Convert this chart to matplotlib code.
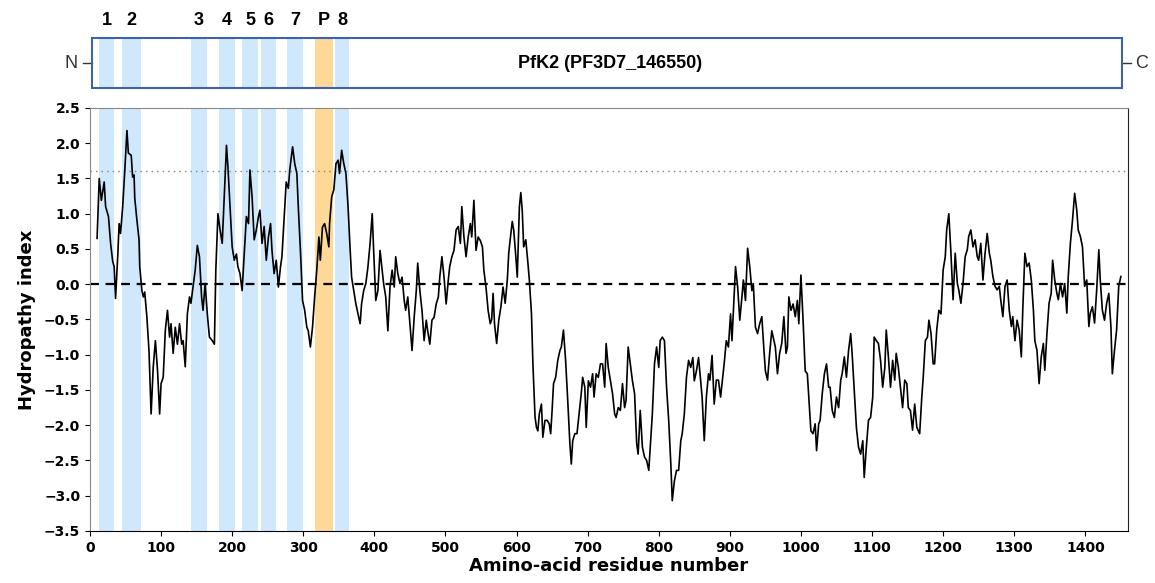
import matplotlib
matplotlib.use("Agg")
import matplotlib.pyplot as plt
from matplotlib.patches import Rectangle

# hydropathy profile
residue = [10, 13, 16, 20, 22, 26, 29, 32, 34, 36, 39, 41, 43, 46, 49, 52, 54, 58, 60, 62, 63, 66, 69, 70,
           73, 75, 77, 80, 83, 86, 89, 92, 95, 98, 100, 103, 106, 109, 112, 114, 117, 120, 123, 126, 129,
           131, 134, 137, 140, 142, 145, 148, 151, 154, 157, 159, 162, 165, 168, 172, 175, 177, 180, 183,
           186, 189, 192, 194, 197, 200, 203, 206, 208, 211, 214, 217, 220, 223, 225, 228, 231, 234, 237,
           239, 242, 245, 248, 251, 254, 256, 259, 262, 265, 268, 270, 273, 276, 279, 281, 285, 288, 291,
           293, 296, 299, 302, 305, 307, 310, 313, 316, 319, 322, 324, 327, 330, 333, 336, 337, 340, 343,
           346, 349, 351, 354, 357, 360, 363, 366, 368, 371, 374, 377, 380, 382, 385, 388, 391, 394, 397,
           399, 402, 405, 408, 411, 413, 416, 419, 422, 425, 428, 430, 433, 436, 439, 442, 444, 447, 450,
           453, 456, 459, 461, 464, 467, 470, 473, 475, 478, 481, 484, 487, 490, 492, 495, 498, 501, 504,
           506, 509, 512, 515, 518, 521, 523, 526, 529, 532, 535, 537, 540, 543, 546, 549, 552, 554, 557,
           560, 563, 565, 567, 569, 572, 575, 578, 581, 584, 587, 589, 591, 594, 596, 599, 601, 604, 606,
           608, 610, 613, 616, 618, 621, 623, 626, 628, 630, 632, 635, 637, 640, 643, 646, 648, 650, 652,
           655, 658, 661, 663, 666, 669, 672, 675, 677, 679, 682, 685, 688, 691, 693, 696, 698, 701, 704,
           707, 709, 712, 715, 718, 721, 724, 726, 729, 732, 735, 738, 740, 743, 746, 749, 752, 754, 757,
           760, 763, 766, 769, 771, 774, 777, 780, 783, 786, 788, 791, 794, 797, 800, 802, 805, 808, 811,
           814, 817, 819, 822, 825, 828, 831, 833, 836, 839, 842, 845, 848, 850, 853, 856, 859, 861, 864,
           867, 870, 872, 875, 878, 881, 884, 887, 889, 892, 895, 898, 901, 903, 906, 908, 911, 914, 917,
           919, 922, 925, 928, 931, 933, 936, 939, 942, 945, 948, 950, 953, 956, 959, 962, 964, 967, 970,
           973, 976, 979, 981, 983, 986, 989, 992, 995, 997, 1000, 1003, 1006, 1009, 1011, 1014, 1017,
           1020, 1022, 1025, 1027, 1030, 1033, 1036, 1039, 1041, 1044, 1047, 1050, 1053, 1056, 1058, 1061,
           1064, 1067, 1070, 1072, 1075, 1078, 1081, 1084, 1087, 1089, 1092, 1095, 1098, 1101, 1103, 1106,
           1109, 1112, 1115, 1118, 1120, 1123, 1126, 1129, 1132, 1134, 1137, 1140, 1143, 1146, 1149, 1151,
           1154, 1157, 1160, 1163, 1167, 1170, 1172, 1175, 1178, 1180, 1183, 1186, 1188, 1191, 1194, 1197,
           1200, 1203, 1205, 1208, 1211, 1214, 1217, 1220, 1222, 1225, 1228, 1231, 1234, 1236, 1239, 1242,
           1245, 1248, 1250, 1253, 1256, 1259, 1262, 1265, 1267, 1270, 1273, 1276, 1279, 1281, 1284, 1287,
           1290, 1293, 1296, 1298, 1301, 1304, 1307, 1310, 1312, 1315, 1318, 1321, 1324, 1327, 1329, 1332,
           1335, 1338, 1341, 1343, 1346, 1349, 1352, 1354, 1357, 1360, 1362, 1365, 1368, 1371, 1374, 1376,
           1379, 1382, 1385, 1388, 1390, 1393, 1396, 1399, 1402, 1405, 1407, 1410, 1413, 1416, 1419, 1421,
           1424, 1427, 1430, 1433, 1436, 1438, 1441, 1444, 1447, 1450]
hydro = [0.65, 1.50, 1.19, 1.45, 1.10, 0.96, 0.58, 0.32, 0.25, -0.20, 0.39, 0.86, 0.72, 1.10, 1.62, 2.18,
         1.86, 1.83, 1.52, 1.55, 1.22, 0.91, 0.63, 0.25, -0.09, -0.18, -0.11, -0.46, -0.94, -1.84, -1.17,
         -0.80, -1.22, -1.84, -1.41, -1.32, -0.65, -0.37, -0.75, -0.56, -0.98, -0.61, -0.85, -0.56, -0.85,
         -0.80, -1.17, -0.42, -0.18, -0.27, -0.04, 0.20, 0.55, 0.39, -0.18, -0.37, 0.01, -0.42, -0.75,
         -0.80, -0.85, 0.20, 1.00, 0.77, 0.58, 1.29, 1.97, 1.67, 1.10, 0.53, 0.34, 0.43, 0.25, 0.15, -0.09,
         0.43, 0.96, 0.86, 1.62, 1.24, 0.63, 0.77, 0.96, 1.05, 0.58, 0.82, 0.34, 0.67, 0.86, 0.48, 0.15,
         0.34, -0.04, 0.25, 0.39, 0.91, 1.45, 1.36, 1.62, 1.95, 1.71, 1.57, 1.10, 0.48, -0.23, -0.37,
         -0.61, -0.66, -0.89, -0.61, -0.18, 0.20, 0.67, 0.34, 0.81, 0.86, 0.72, 0.53, 0.86, 1.24, 1.34,
         1.71, 1.76, 1.57, 1.90, 1.71, 1.57, 1.10, 0.48, 0.10, -0.09, -0.28, -0.42, -0.56, -0.28, -0.09,
         0.01, 0.25, 0.58, 1.00, 0.48, -0.23, -0.09, 0.48, 0.20, 0.01, -0.18, -0.66, -0.04, 0.20, -0.04,
         0.39, 0.15, 0.01, 0.10, -0.23, -0.37, -0.18, -0.56, -0.94, -0.47, -0.09, 0.30, -0.09, -0.37,
         -0.80, -0.51, -0.66, -0.85, -0.51, -0.47, -0.28, -0.18, 0.10, 0.39, 0.10, -0.28, 0.06, 0.25,
         0.39, 0.48, 0.77, 0.82, 0.58, 1.10, 0.67, 0.39, 0.67, 0.86, 0.67, 1.19, 0.48, 0.67, 0.62, 0.53,
         0.20, -0.04, -0.37, -0.56, -0.50, -0.13, -0.56, -0.84, -0.51, -0.32, -0.04, -0.27, 0.06, 0.44,
         0.63, 0.89, 0.77, 0.39, 0.10, 1.10, 1.30, 1.05, 0.53, 0.63, 0.30, 0.06, -0.42, -1.13, -1.88,
         -2.03, -2.08, -1.84, -1.70, -2.17, -1.93, -1.93, -1.98, -2.12, -1.79, -1.41, -1.32, -1.08, -0.94,
         -0.89, -0.65, -1.08, -1.65, -2.26, -2.55, -2.22, -2.12, -2.12, -1.84, -1.55, -1.32, -1.46, -2.03,
         -1.37, -1.46, -1.27, -1.60, -1.27, -1.32, -1.13, -1.13, -1.46, -0.84, -1.18, -1.37, -1.55, -1.84,
         -1.89, -1.75, -1.79, -1.41, -1.75, -1.65, -0.89, -1.13, -1.37, -1.55, -2.26, -2.41, -1.79, -2.31,
         -2.45, -2.50, -2.64, -2.31, -1.84, -1.13, -0.89, -1.18, -0.80, -0.75, -0.80, -1.46, -1.93, -2.55,
         -3.07, -2.79, -2.64, -2.64, -2.22, -2.12, -1.84, -1.32, -1.08, -1.18, -1.04, -1.37, -1.23, -1.04,
         -1.37, -1.60, -2.22, -1.60, -1.27, -1.36, -1.01, -1.70, -1.36, -1.36, -1.60, -1.41, -1.13, -0.80,
         -0.89, -0.42, -0.80, -0.18, 0.25, -0.04, -0.51, -0.18, 0.06, -0.23, 0.51, 0.25, -0.09, 0.01,
         -0.61, -0.70, -0.56, -0.46, -0.94, -1.23, -1.36, -0.98, -0.66, -0.80, -0.89, -1.27, -0.98, -0.84,
         -0.46, -0.98, -0.89, -0.18, -0.37, -0.28, -0.46, -0.23, -0.56, 0.13, -0.51, -1.23, -1.27, -1.60,
         -2.08, -2.12, -1.98, -2.36, -1.98, -1.93, -1.55, -1.27, -1.13, -1.46, -1.46, -1.79, -1.89, -1.60,
         -1.75, -1.36, -1.27, -1.03, -1.32, -0.94, -0.70, -0.98, -1.50, -2.03, -2.31, -2.41, -2.22, -2.74,
         -2.31, -1.93, -1.89, -1.60, -0.75, -0.80, -0.84, -1.08, -1.46, -1.18, -0.65, -1.03, -1.46, -1.08,
         -1.36, -0.98, -1.18, -1.46, -1.75, -1.36, -1.41, -1.75, -1.79, -2.07, -1.70, -2.03, -2.12, -1.60,
         -1.32, -0.80, -0.75, -0.51, -0.70, -1.13, -1.13, -0.65, -0.37, -0.42, 0.20, 0.39, 0.77, 1.00,
         0.44, -0.22, 0.44, 0.01, -0.08, -0.27, 0.01, 0.39, 0.49, 0.68, 0.77, 0.53, 0.63, 0.39, 0.34, 0.58,
         0.06, 0.44, 0.72, 0.44, 0.34, 0.11, -0.03, -0.08, -0.03, -0.22, -0.46, -0.03, 0.06, -0.37, -0.60,
         -0.46, -0.80, -0.51, -0.65, -1.03, -0.37, 0.44, 0.25, 0.30, 0.06, -0.37, -0.80, -0.94, -1.41,
         -1.03, -0.84, -1.22, -0.70, -0.27, -0.13, 0.34, 0.06, -0.13, -0.22, 0.01, -0.18, 0.01, -0.41,
         0.11, 0.58, 0.91, 1.29, 1.05, 0.77, 0.68, 0.53, -0.03, 0.06, -0.60, -0.41, -0.32, -0.55, -0.08,
         0.49, 0.06, -0.37, -0.51, -0.27, -0.13, -0.60, -1.27, -0.94, -0.65, -0.03, 0.11]

# transmembrane segments and pore loop
tm_labels = ["1", "2", "3", "4", "5", "6", "7", "8"]
tm_start = [13, 45, 142, 181, 214, 241, 277, 345]
tm_end = [34, 72, 164, 204, 237, 262, 300, 364]
pore_start = 317
pore_end = 342
protein_len = 1450
threshold = 1.6

blue = "#cfe8fb"
orange = "#fed896"
label_font = "Liberation Sans"

fig = plt.figure(figsize=(11.55, 5.83), dpi=100)
ax = fig.add_axes([0.0779, 0.0892, 0.8987, 0.7256])
box = fig.add_axes([0.0779, 0.849, 0.8987, 0.0858])

# main hydropathy plot
for s, e in zip(tm_start, tm_end):
    ax.axvspan(s, e, color=blue, lw=0, zorder=0)
ax.axvspan(pore_start, pore_end, color=orange, lw=0, zorder=0)
ax.plot(residue, hydro, color="black", lw=1.2, zorder=3)
ax.axhline(0, color="black", ls=(0, (4, 3)), lw=1.6, zorder=2)
ax.axhline(threshold, color="grey", ls=(0, (1, 3)), lw=1.0, zorder=2)

ax.set_xlim(0, 1460)
ax.set_ylim(-3.5, 2.5)
ax.set_xticks(range(0, 1401, 100))
ax.set_yticks([-3.5, -3.0, -2.5, -2.0, -1.5, -1.0, -0.5, 0.0, 0.5, 1.0, 1.5, 2.0, 2.5])
for lab in ax.get_xticklabels() + ax.get_yticklabels():
    lab.set_fontweight("bold")
    lab.set_fontsize(10)
ax.set_xlabel("Amino-acid residue number", fontsize=13, fontweight="bold", labelpad=2)
ax.set_ylabel("Hydropathy index", fontsize=13, fontweight="bold", labelpad=6)
for side in ["top", "left"]:
    ax.spines[side].set_color("#888888")
ax.spines["right"].set_color("#222222")

# protein cartoon on top
box.set_xlim(0, 1460)
box.set_ylim(0, 1)
box.axis("off")
for s, e, lab in zip(tm_start, tm_end, tm_labels):
    box.axvspan(s, e, color=blue, lw=0, zorder=0)
    box.text((s + e) / 2, 1.36, lab, ha="center", va="center", fontsize=13,
             fontweight="bold", family=label_font)
box.axvspan(pore_start, pore_end, color=orange, lw=0, zorder=0)
box.text((pore_start + pore_end) / 2, 1.36, "P", ha="center", va="center", fontsize=13,
         fontweight="bold", family=label_font)
box.add_patch(Rectangle((3, 0), protein_len - 2, 1, fill=False, edgecolor="#3f62ad",
                        lw=1.5, zorder=3, clip_on=False))
box.plot([-10, 3], [0.5, 0.5], color="#333333", lw=1, clip_on=False)
box.plot([protein_len + 1, protein_len + 14], [0.5, 0.5], color="#333333", lw=1, clip_on=False)
box.text(-18, 0.5, "N", ha="right", va="center", fontsize=13, family=label_font, color="#333333")
box.text(protein_len + 20, 0.5, "C", ha="left", va="center", fontsize=13, family=label_font,
         color="#333333")
box.text(731, 0.5, "PfK2 (PF3D7_146550)", ha="center", va="center", fontsize=13,
         fontweight="bold", family=label_font)

fig.savefig("out.png", dpi=100)
